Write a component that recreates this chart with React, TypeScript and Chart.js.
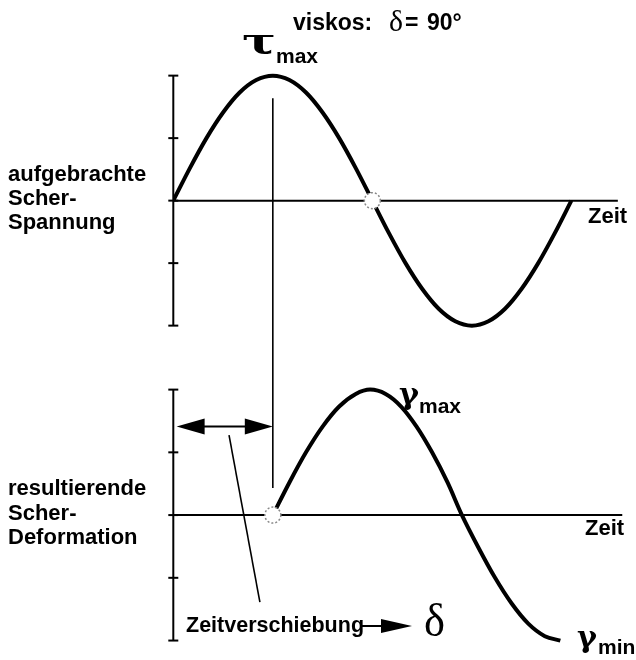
import React, { useEffect, useRef } from "react";
import { Chart, registerables } from "chart.js";

Chart.register(...registerables);

// Phase angle (degrees) and applied shear stress (amplitude units)
const TIME_STRESS = [0, 15, 30, 45, 60, 75, 90, 105, 120, 135, 150, 165, 180, 195, 210, 225, 240, 255, 270, 285, 300, 315, 330, 345, 360];
const STRESS = [0, 0.52, 1.0, 1.41, 1.73, 1.93, 2.0, 1.93, 1.73, 1.41, 1.0, 0.52, 0, -0.52, -1.0, -1.41, -1.73, -1.93, -2.0, -1.93, -1.73, -1.41, -1.0, -0.52, 0];

// Phase angle (degrees) and resulting shear deformation, lagging by 90°
const TIME_STRAIN = [90, 105, 120, 135, 150, 165, 178, 192, 206, 220, 234, 248, 261, 276, 291, 306, 321, 336, 350];
const STRAIN = [0, 0.52, 1.0, 1.41, 1.73, 1.93, 2.0, 1.93, 1.73, 1.41, 1.0, 0.52, 0, -0.52, -1.0, -1.41, -1.73, -1.93, -2.0];

// Tick marks on both vertical axes
const TICKS = [-2, -1, 0, 1, 2];

// Phase shift between the two signals
const SHIFT_DEG = 90;

const SANS = '"Liberation Sans", Arial, Helvetica, sans-serif';
const SERIF = '"Liberation Serif", "DejaVu Serif", serif';
const GREEK = '"DejaVu Serif", "Liberation Serif", serif';

function toPoints(xs: number[], ys: number[]) {
  return xs.map((x, i) => ({ x, y: ys[i] }));
}

// draws a glyph stretched to a given width, left edge at x
function stretchedGlyph(ctx: CanvasRenderingContext2D, text: string, font: string, x: number, y: number, width: number) {
  ctx.save();
  ctx.font = font;
  const w = ctx.measureText(text).width;
  const k = width / w;
  ctx.translate(x, y);
  ctx.scale(k, 1);
  ctx.fillText(text, 0, 0);
  ctx.restore();
}

const diagramPlugin = {
  id: "diagram",
  beforeDatasetsDraw(chart: any) {
    const { ctx, scales } = chart;
    const x = scales.x;
    const yT = scales.yTop;
    const yB = scales.yBot;
    ctx.save();
    ctx.strokeStyle = "#000";
    ctx.lineCap = "butt";

    const drawAxis = (ys: any, zeroEnd: number) => {
      const x0 = x.getPixelForValue(0);
      ctx.lineWidth = 2;
      ctx.beginPath();
      ctx.moveTo(x0, ys.getPixelForValue(TICKS[TICKS.length - 1]));
      ctx.lineTo(x0, ys.getPixelForValue(TICKS[0]));
      ctx.stroke();
      TICKS.forEach((t) => {
        const py = ys.getPixelForValue(t);
        ctx.beginPath();
        ctx.moveTo(x0 - 5, py);
        ctx.lineTo(x0 + 5, py);
        ctx.stroke();
      });
      ctx.beginPath();
      ctx.moveTo(x0, ys.getPixelForValue(0));
      ctx.lineTo(x.getPixelForValue(zeroEnd), ys.getPixelForValue(0));
      ctx.stroke();
    };
    drawAxis(yT, 402);
    drawAxis(yB, 406);

    // vertical marker at the stress maximum
    const xs = x.getPixelForValue(SHIFT_DEG);
    ctx.lineWidth = 1.6;
    ctx.beginPath();
    ctx.moveTo(xs, yT.getPixelForValue(1.64));
    ctx.lineTo(xs, yB.getPixelForValue(0.43));
    ctx.stroke();

    // double arrow for the time shift
    const ay = yB.getPixelForValue(1.41);
    const ax0 = x.getPixelForValue(3);
    const ax1 = xs;
    ctx.lineWidth = 2;
    ctx.beginPath();
    ctx.moveTo(ax0 + 20, ay);
    ctx.lineTo(ax1 - 20, ay);
    ctx.stroke();
    ctx.fillStyle = "#000";
    ctx.beginPath();
    ctx.moveTo(ax0, ay);
    ctx.lineTo(ax0 + 28, ay - 8);
    ctx.lineTo(ax0 + 28, ay + 8);
    ctx.closePath();
    ctx.fill();
    ctx.beginPath();
    ctx.moveTo(ax1, ay);
    ctx.lineTo(ax1 - 28, ay - 8);
    ctx.lineTo(ax1 - 28, ay + 8);
    ctx.closePath();
    ctx.fill();

    // leader line to the label
    ctx.lineWidth = 1.6;
    ctx.beginPath();
    ctx.moveTo(x.getPixelForValue(50.4), yB.getPixelForValue(1.275));
    ctx.lineTo(x.getPixelForValue(78.3), yB.getPixelForValue(-1.386));
    ctx.stroke();
    ctx.restore();
  },
  afterDatasetsDraw(chart: any) {
    const { ctx, scales } = chart;
    const x = scales.x;
    const yT = scales.yTop;
    const yB = scales.yBot;
    ctx.save();

    // zero-crossing markers
    const ring = (px: number, py: number) => {
      ctx.beginPath();
      ctx.arc(px, py, 8, 0, Math.PI * 2);
      ctx.fillStyle = "#fff";
      ctx.fill();
      ctx.setLineDash([2, 2]);
      ctx.lineWidth = 1.5;
      ctx.strokeStyle = "#888";
      ctx.stroke();
      ctx.setLineDash([]);
    };
    ring(x.getPixelForValue(180), yT.getPixelForValue(0));
    ring(x.getPixelForValue(SHIFT_DEG), yB.getPixelForValue(0));

    ctx.fillStyle = "#000";
    ctx.textBaseline = "alphabetic";
    ctx.textAlign = "left";

    // title
    ctx.font = `bold 23px ${SANS}`;
    ctx.fillText("viskos:", 293, 30);
    stretchedGlyph(ctx, "δ", `30px ${SERIF}`, 389, 31, 14);
    ctx.font = `bold 23px ${SANS}`;
    ctx.fillText("=", 405, 30);
    ctx.fillText("90°", 427, 30);

    // tau max
    stretchedGlyph(ctx, "τ", `bold 36px ${GREEK}`, 242, 53, 34);
    ctx.font = `bold 21px ${SANS}`;
    ctx.fillText("max", 276, 63);

    // gamma max / min
    stretchedGlyph(ctx, "γ", `bold 30px ${GREEK}`, 399, 404, 20);
    ctx.font = `bold 21px ${SANS}`;
    ctx.fillText("max", 419, 413);
    stretchedGlyph(ctx, "γ", `bold 30px ${GREEK}`, 577, 647, 20);
    ctx.font = `bold 21px ${SANS}`;
    ctx.fillText("min", 598, 654);

    // axis labels
    ctx.font = `bold 22px ${SANS}`;
    ctx.fillText("Zeit", 588, 223);
    ctx.fillText("Zeit", 585, 535);

    ctx.fillText("aufgebrachte", 8, 181);
    ctx.fillText("Scher-", 8, 205);
    ctx.fillText("Spannung", 8, 229);

    ctx.fillText("resultierende", 8, 495);
    ctx.fillText("Scher-", 8, 520);
    ctx.fillText("Deformation", 8, 544);

    // time shift label with arrow to delta
    ctx.font = `bold 21.5px ${SANS}`;
    ctx.fillText("Zeitverschiebung", 186, 632);
    const lw = ctx.measureText("Zeitverschiebung").width;
    const lx = 186 + lw;
    ctx.strokeStyle = "#000";
    ctx.lineWidth = 2;
    ctx.beginPath();
    ctx.moveTo(lx - 4, 626);
    ctx.lineTo(lx + 20, 626);
    ctx.stroke();
    ctx.beginPath();
    ctx.moveTo(lx + 48, 626);
    ctx.lineTo(lx + 17, 619);
    ctx.lineTo(lx + 17, 633);
    ctx.closePath();
    ctx.fill();
    stretchedGlyph(ctx, "δ", `46px ${SERIF}`, lx + 60, 636, 21);

    ctx.restore();
  },
};

export default function App() {
  const canvasRef = useRef<HTMLCanvasElement | null>(null);

  useEffect(() => {
    if (!canvasRef.current) return;
    const chart = new Chart(canvasRef.current, {
      type: "line",
      data: {
        datasets: [
          {
            label: "Scher-Spannung",
            data: toPoints(TIME_STRESS, STRESS),
            yAxisID: "yTop",
            borderColor: "#000",
            borderWidth: 4,
            pointRadius: 0,
            cubicInterpolationMode: "monotone",
            fill: false,
          },
          {
            label: "Scher-Deformation",
            data: toPoints(TIME_STRAIN, STRAIN),
            yAxisID: "yBot",
            borderColor: "#000",
            borderWidth: 4,
            pointRadius: 0,
            cubicInterpolationMode: "monotone",
            fill: false,
          },
        ],
      },
      options: {
        responsive: false,
        animation: false,
        events: [],
        layout: { padding: { left: 173.3, right: 6, top: 0, bottom: 0 } },
        plugins: {
          legend: { display: false },
          tooltip: { enabled: false },
          title: { display: false },
        },
        scales: {
          x: { type: "linear", min: 0, max: 413, display: false },
          yTop: { type: "linear", min: -7.35, max: 3.21, display: false },
          yBot: { type: "linear", min: -2.31, max: 8.21, display: false },
        },
      },
      plugins: [diagramPlugin],
    });
    return () => chart.destroy();
  }, []);

  return (
    <div style={{ position: "absolute", left: 0, top: 0, width: 636, height: 660, background: "#fff" }}>
      <canvas ref={canvasRef} width={636} height={660} style={{ width: 636, height: 660, display: "block" }} />
    </div>
  );
}
